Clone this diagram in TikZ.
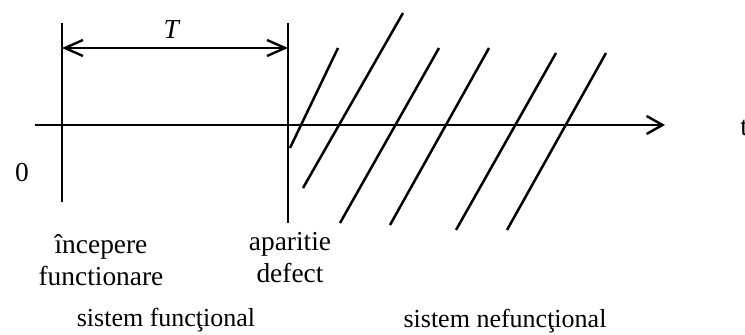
\documentclass[tikz,border=0pt]{standalone}
\usepackage{fontspec}
\setmainfont{Liberation Serif}
\usetikzlibrary{arrows.meta,positioning}

\begin{document}
\begin{tikzpicture}[
    x=0.5pt, y=-0.5pt,
    line width=1.25pt,
    txt/.style={font=\fontsize{13.7}{16}\selectfont, inner sep=0pt, align=center},
    statelbl/.style={txt, font=\fontsize{13}{15}\selectfont},
    arrow/.style={-{Straight Barb[length=8pt, width=9pt, line width=1.2pt]}},
    dimarrow/.style={{Straight Barb[length=9pt, width=8pt, line width=1.2pt]}-{Straight Barb[length=9pt, width=8pt, line width=1.2pt]}},
    hatch/.style={line width=1.25pt}
]
    \useasboundingbox (0,0) rectangle (745,335);

    % time axis
    \coordinate (axisstart) at (35,125);
    \coordinate (axisend) at (665,125);
    \draw[arrow] (axisstart) -- (axisend);

    % start and failure marks
    \coordinate (starttop) at (62,23);
    \coordinate (startbot) at (62,202);
    \coordinate (failtop) at (288,23);
    \coordinate (failbot) at (288,223);
    \draw (starttop) -- (startbot);
    \draw (failtop) -- (failbot);

    % interval T
    \coordinate (dimleft) at (62,48);
    \coordinate (dimright) at (288,48);
    \draw[dimarrow] (dimleft) -- (dimright);
    \node[txt] (period) at (172,30) {\textit{T}};

    % hatching of the failed state
    \foreach \xa/\ya/\xb/\yb in {290/148/338/48, 303/188/403/13, 340/223/439/48,
        390/225/489/48, 456/230/556/53, 507/230/606/53}
        \draw[hatch] (\xa,\ya) -- (\xb,\yb);

    \node[txt] (origin) at (22,173) {0};
    \node[txt, anchor=west] (timelbl) at (739,128) {t};
    \node[txt] (startlbl) at (101,260) {începere\\functionare};
    \node[txt] (faillbl) at (290,258) {aparitie\\defect};
    \node[statelbl] (oklbl) at (166,320) {sistem funcţional};
    \node[statelbl] (nokbl) at (505,321) {sistem nefuncţional};
\end{tikzpicture}
\end{document}
